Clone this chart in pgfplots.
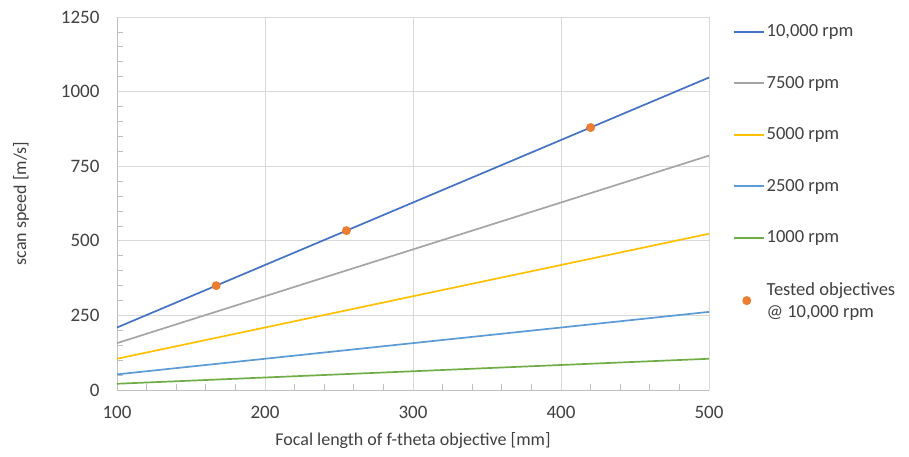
\documentclass[border=0pt]{standalone}
\usepackage{pgfplots}
\pgfplotsset{compat=1.18}
\usepackage{fontspec}
\setmainfont{Carlito}
\definecolor{cA}{HTML}{4472C4}
\definecolor{cB}{HTML}{A5A5A5}
\definecolor{cC}{HTML}{FFC000}
\definecolor{cD}{HTML}{5B9BD5}
\definecolor{cE}{HTML}{70AD47}
\definecolor{cF}{HTML}{ED7D31}
\definecolor{axgray}{HTML}{BFBFBF}
\definecolor{gridgray}{HTML}{D9D9D9}
\definecolor{txt}{HTML}{404040}
\pgfplotsset{
  linelegend/.style={legend image code/.code={\draw[##1, line width=1.7pt] (0pt,0pt) -- (30pt,0pt);}},
  dotlegend/.style={legend image code/.code={\draw[mark repeat=2,mark phase=2,##1] plot coordinates {(0pt,0pt) (13pt,0pt) (30pt,0pt)};}},
}
\begin{document}
\begin{tikzpicture}
\begin{axis}[
  scale only axis,
  width=592pt, height=373pt,
  xmin=100, xmax=500, ymin=0, ymax=1250,
  xtick={100,200,...,500}, ytick={0,250,...,1250},
  minor x tick num=4, minor y tick num=4,
  axis x line=bottom, axis y line=left,
  axis line style={axgray, line width=0.8pt, -},
  x axis line style={-}, y axis line style={-},
  grid=major, major grid style={gridgray, line width=0.8pt},
  tick style={axgray, line width=0.7pt},
  major tick length=0pt, minor tick length=6pt,
  tick align=inside,
  /pgf/number format/assume math mode=true,
  /pgf/number format/1000 sep={},
  ticklabel style={font=\fontsize{19}{22}\selectfont, text=txt},
  xticklabel style={yshift=-13pt},
  yticklabel style={xshift=-14pt},
  xlabel={Focal length of f-theta objective [mm]},
  ylabel={scan speed [m/s]},
  label style={font=\fontsize{18}{21}\selectfont, text=txt},
  xlabel style={yshift=-7pt},
  ylabel style={yshift=25pt},
  clip=false,
  legend style={at={(1.035,0.99)}, anchor=north west, draw=none, fill=none,
    font=\fontsize{18.5}{22}\selectfont, text=txt,
    row sep=34pt, cells={anchor=west, align=left}},
  legend cell align=left,
  every axis plot/.append style={line width=1.7pt},
]
\addplot[cA, mark=none, linelegend] coordinates {(100,209.4) (200,418.9) (300,628.3) (400,837.8) (500,1047.2)};
\addlegendentry{10,000 rpm}
\addplot[cB, mark=none, linelegend] coordinates {(100,157.1) (200,314.2) (300,471.2) (400,628.3) (500,785.4)};
\addlegendentry{7500 rpm}
\addplot[cC, mark=none, linelegend] coordinates {(100,104.7) (200,209.4) (300,314.2) (400,418.9) (500,523.6)};
\addlegendentry{5000 rpm}
\addplot[cD, mark=none, linelegend] coordinates {(100,52.4) (200,104.7) (300,157.1) (400,209.4) (500,261.8)};
\addlegendentry{2500 rpm}
\addplot[cE, mark=none, linelegend] coordinates {(100,20.9) (200,41.9) (300,62.8) (400,83.8) (500,104.7)};
\addlegendentry{1000 rpm}
\addplot[only marks, mark=*, mark size=3.6pt, color=cF, mark options={draw=cF, fill=cF}, dotlegend]
  coordinates {(167,349.7) (255,534.0) (420,879.6)};
\addlegendentry{Tested objectives\\@ 10,000 rpm}
\end{axis}
\path ([xshift=-117pt,yshift=-67pt]current axis.south west) rectangle ([xshift=200pt,yshift=17pt]current axis.north east);
\end{tikzpicture}
\end{document}
